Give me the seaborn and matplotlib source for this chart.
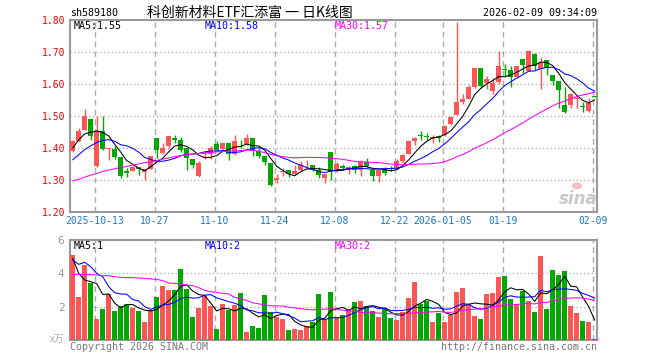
import numpy as np
import pandas as pd
import matplotlib
matplotlib.use("Agg")
import matplotlib.pyplot as plt
from matplotlib.patches import Ellipse
import seaborn as sns

# ---------------- data ----------------
opens = [1.392, 1.421, 1.457, 1.491, 1.345, 1.454, 1.397, 1.397, 1.371, 1.329,
         1.329, 1.340, 1.324, 1.333, 1.431, 1.384, 1.406, 1.431, 1.426, 1.400,
         1.366, 1.313, 1.380, 1.380, 1.413, 1.397, 1.416, 1.380, 1.413, 1.413,
         1.431, 1.391, 1.374, 1.353, 1.300, 1.325, 1.332, 1.319, 1.331, 1.349,
         1.348, 1.332, 1.305, 1.389, 1.329, 1.345, 1.330, 1.343, 1.330, 1.357,
         1.332, 1.311, 1.332, 1.337, 1.336, 1.359, 1.382, 1.422, 1.442, 1.438,
         1.427, 1.436, 1.441, 1.474, 1.503, 1.545, 1.552, 1.591, 1.649, 1.604,
         1.577, 1.605, 1.647, 1.644, 1.621, 1.679, 1.642, 1.695, 1.647, 1.674,
         1.627, 1.608, 1.535, 1.535, 1.552, 1.531, 1.516, 1.562]
highs = [1.426, 1.461, 1.523, 1.491, 1.500, 1.499, 1.400, 1.405, 1.372, 1.337,
         1.345, 1.340, 1.335, 1.376, 1.432, 1.416, 1.436, 1.441, 1.433, 1.400,
         1.366, 1.360, 1.390, 1.407, 1.421, 1.416, 1.416, 1.442, 1.426, 1.443,
         1.431, 1.399, 1.374, 1.353, 1.318, 1.337, 1.332, 1.346, 1.358, 1.361,
         1.348, 1.341, 1.320, 1.389, 1.357, 1.351, 1.345, 1.347, 1.362, 1.370,
         1.332, 1.332, 1.340, 1.345, 1.365, 1.382, 1.424, 1.434, 1.453, 1.448,
         1.441, 1.441, 1.472, 1.500, 1.795, 1.570, 1.596, 1.650, 1.649, 1.625,
         1.620, 1.703, 1.664, 1.655, 1.656, 1.679, 1.706, 1.697, 1.685, 1.674,
         1.627, 1.608, 1.590, 1.572, 1.561, 1.543, 1.556, 1.563]
lows = [1.389, 1.418, 1.455, 1.426, 1.342, 1.393, 1.363, 1.366, 1.307, 1.310,
        1.327, 1.315, 1.299, 1.333, 1.369, 1.381, 1.400, 1.416, 1.387, 1.332,
        1.337, 1.309, 1.365, 1.365, 1.390, 1.392, 1.362, 1.377, 1.400, 1.410,
        1.376, 1.368, 1.347, 1.282, 1.292, 1.312, 1.309, 1.316, 1.328, 1.334,
        1.327, 1.306, 1.290, 1.300, 1.326, 1.332, 1.320, 1.323, 1.314, 1.341,
        1.298, 1.295, 1.316, 1.327, 1.333, 1.354, 1.380, 1.409, 1.424, 1.424,
        1.417, 1.420, 1.439, 1.472, 1.503, 1.536, 1.552, 1.587, 1.589, 1.583,
        1.570, 1.600, 1.625, 1.592, 1.620, 1.634, 1.640, 1.643, 1.583, 1.627,
        1.598, 1.525, 1.509, 1.526, 1.525, 1.514, 1.514, 1.558]
closes = [1.421, 1.454, 1.501, 1.436, 1.454, 1.397, 1.400, 1.371, 1.314, 1.322,
          1.340, 1.335, 1.335, 1.374, 1.395, 1.400, 1.436, 1.426, 1.393, 1.369,
          1.348, 1.353, 1.385, 1.400, 1.395, 1.416, 1.380, 1.423, 1.411, 1.431,
          1.391, 1.376, 1.355, 1.285, 1.307, 1.328, 1.318, 1.328, 1.348, 1.351,
          1.332, 1.316, 1.318, 1.329, 1.350, 1.339, 1.340, 1.330, 1.356, 1.343,
          1.313, 1.332, 1.321, 1.335, 1.359, 1.377, 1.422, 1.430, 1.439, 1.435,
          1.434, 1.432, 1.469, 1.497, 1.545, 1.552, 1.591, 1.649, 1.594, 1.615,
          1.604, 1.655, 1.645, 1.622, 1.655, 1.658, 1.704, 1.655, 1.670, 1.651,
          1.608, 1.582, 1.511, 1.569, 1.555, 1.529, 1.540, 1.560]
volumes = [5.10, 2.60, 4.50, 3.44, 1.26, 1.86, 2.76, 1.74, 2.04, 2.16,
           1.94, 1.74, 1.08, 1.80, 2.58, 3.24, 3.00, 3.00, 4.26, 3.06,
           1.38, 1.94, 2.70, 2.04, 0.66, 2.16, 1.80, 2.08, 2.82, 0.48,
           0.84, 0.72, 2.70, 1.68, 1.40, 1.26, 0.60, 0.66, 0.60, 0.84,
           1.08, 2.76, 1.26, 2.90, 1.36, 1.50, 1.86, 2.30, 2.36, 2.04,
           1.74, 1.38, 1.88, 1.32, 1.20, 1.68, 2.52, 3.48, 2.16, 2.34,
           1.08, 1.62, 1.08, 1.50, 2.88, 3.12, 2.16, 1.44, 1.26, 2.76,
           2.82, 3.78, 3.84, 2.46, 2.16, 2.94, 2.34, 1.68, 5.04, 1.86,
           4.20, 3.92, 4.14, 2.04, 1.62, 1.14, 1.08, 0.06]

# moving-average values at the left edge (need history before the window)
ma5_lead = [1.400, 1.426, 1.444, 1.449]
ma10_lead = [1.363, 1.379, 1.395, 1.407, 1.417, 1.424, 1.426, 1.421, 1.410]
ma30_lead = [1.297, 1.302, 1.309, 1.315, 1.320, 1.327, 1.331, 1.335, 1.339, 1.342,
             1.347, 1.350, 1.354, 1.357, 1.361, 1.365, 1.369, 1.373, 1.376, 1.379,
             1.381, 1.383, 1.385, 1.386, 1.388, 1.389, 1.390, 1.391, 1.392]
vma5_lead = [4.90, 4.00, 3.60, 3.50]
vma10_lead = [4.80, 4.54, 4.66, 4.40, 4.00, 3.80, 3.20, 2.84, 2.76]
vma30_lead = [3.94, 3.94, 3.94, 3.92, 3.90, 3.86, 3.86, 3.80, 3.76, 3.74,
              3.74, 3.72, 3.70, 3.66, 3.64, 3.56, 3.42, 3.40, 3.36, 3.30,
              3.26, 3.14, 2.98, 2.90, 2.86, 2.80, 2.76, 2.56, 2.46]

tick_labels = ["2025-10-13", "10-27", "11-10", "11-24", "12-08", "12-22",
               "2026-01-05", "01-19", "02-09"]
tick_index = [4, 14, 24, 34, 44, 54, 62, 72, 87]
price_ticks = [1.20, 1.30, 1.40, 1.50, 1.60, 1.70, 1.80]
vol_ticks = [2, 4, 6]

title_code = "sh589180"
title_name = "科创新材料ETF汇添富 一 日K线图"
timestamp = "2026-02-09 09:34:09"
ma_labels = ["MA5:1.55", "MA10:1.58", "MA30:1.57"]
vma_labels = ["MA5:1", "MA10:2", "MA30:2"]

# ---------------- derived ----------------
n = len(closes)
idx = np.arange(n)
df = pd.DataFrame({"i": idx, "open": opens, "high": highs, "low": lows,
                   "close": closes, "vol": volumes})
df["dir"] = np.where(df["close"] >= df["open"], "up", "down")


def moving(values, win, lead):
    r = pd.Series(values).rolling(win).mean().to_numpy()
    r[:len(lead)] = lead
    return r


df["ma5"] = moving(closes, 5, ma5_lead)
df["ma10"] = moving(closes, 10, ma10_lead)
df["ma30"] = moving(closes, 30, ma30_lead)
df["vma5"] = moving(volumes, 5, vma5_lead)
df["vma10"] = moving(volumes, 10, vma10_lead)
df["vma30"] = moving(volumes, 30, vma30_lead)

RED = "#ff5555"
GREEN = "#00a800"
pal = {"up": RED, "down": GREEN}
cols = df["dir"].map(pal).to_list()

sns.set_style("white")
plt.rcParams["font.family"] = ["DejaVu Sans Mono", "Noto Sans CJK SC"]

W, H = 660, 360
fig = plt.figure(figsize=(W / 100, H / 100), dpi=100)
fig.patch.set_facecolor("white")

L, R = 70, 597
ax = fig.add_axes([L / W, 1 - 212 / H, (R - L) / W, (212 - 20) / H])
axv = fig.add_axes([L / W, 1 - 340 / H, (R - L) / W, (340 - 240) / H])

x0 = -0.45
x1 = x0 + (R - L) / 6.0
grid_shift = -0.35
LW = 0.75

for a in (ax, axv):
    for s in a.spines.values():
        s.set_color("#9a9a9a")
        s.set_linewidth(1.5)
    a.set_facecolor("white")

# ---- candles ----
ax.vlines(df["i"], df["low"], df["high"], colors=cols, lw=1.0, zorder=3)
body_lo = np.minimum(df["open"], df["close"])
body_h = np.maximum(np.abs(df["close"] - df["open"]), 0.0025)
ax.bar(df["i"], body_h, bottom=body_lo, width=0.78, color=cols, lw=0, zorder=4)

sns.lineplot(data=df, x="i", y="ma5", ax=ax, color="black", lw=LW, zorder=5)
sns.lineplot(data=df, x="i", y="ma10", ax=ax, color="#0000ff", lw=LW, zorder=5)
sns.lineplot(data=df, x="i", y="ma30", ax=ax, color="#ff00ff", lw=LW, zorder=5)

ax.set_xlim(x0, x1)
ax.set_ylim(1.20, 1.80)
ax.set_yticks(price_ticks)
ax.set_yticklabels([f"{p:.2f}" for p in price_ticks], color="#ee0000", fontsize=7)
ax.set_xticks(np.array(tick_index) + grid_shift)
ax.set_xticklabels(tick_labels, color="#1a78c8", fontsize=7)
ax.tick_params(length=0, pad=3)
ax.set_xlabel("")
ax.set_ylabel("")
for p in price_ticks[1:-1]:
    ax.axhline(p, color="#aaaaaa", lw=0.9, ls=(0, (1, 2)), zorder=1)
for t in tick_index:
    ax.axvline(t + grid_shift, color="#aaaaaa", lw=1.0, ls=(0, (4, 3)), zorder=1)

# ---- volume ----
sns.barplot(data=df, x="i", y="vol", hue="dir", palette=pal, native_scale=True,
            dodge=False, legend=False, width=0.82, saturation=1, errorbar=None,
            ax=axv, zorder=3, linewidth=0)
sns.lineplot(data=df, x="i", y="vma5", ax=axv, color="black", lw=LW, zorder=5)
sns.lineplot(data=df, x="i", y="vma10", ax=axv, color="#0000ff", lw=LW, zorder=5)
sns.lineplot(data=df, x="i", y="vma30", ax=axv, color="#ff00ff", lw=LW, zorder=5)
axv.set_xlim(x0, x1)
axv.set_ylim(0, 6)
axv.set_yticks(vol_ticks)
axv.set_yticklabels([str(v) for v in vol_ticks], color="#999999", fontsize=8)
axv.set_xticks([])
axv.tick_params(length=0, pad=4)
axv.set_xlabel("")
axv.set_ylabel("")
for v in vol_ticks[:-1]:
    axv.axhline(v, color="#aaaaaa", lw=0.9, ls=(0, (1, 2)), zorder=1)
for t in tick_index:
    axv.axvline(t + grid_shift, color="#aaaaaa", lw=1.0, ls=(0, (4, 3)), zorder=1)


def ftext(x, y, s, **kw):
    fig.text(x / W, 1 - y / H, s, **kw)


# titles
ftext(70, 13, title_code, fontsize=7.2, color="black", va="center", ha="left")
ftext(250, 13, title_name, fontsize=10, color="black", va="center", ha="center",
      family=["Noto Sans CJK SC", "DejaVu Sans"])
ftext(597, 13, timestamp, fontsize=7.2, color="black", va="center", ha="right")

# MA legends
ma_cols = ["black", "#0000ff", "#ff00ff"]
ma_x = [74, 205, 335]
for s, c, x in zip(ma_labels, ma_cols, ma_x):
    ftext(x, 26, s, fontsize=7.2, color=c, va="center", ha="left")
for s, c, x in zip(vma_labels, ma_cols, ma_x):
    ftext(x, 246, s, fontsize=7.2, color=c, va="center", ha="left")

# unit label
ftext(64, 339, "x万", fontsize=7, color="#aaaaaa", va="center", ha="right",
      family=["Noto Sans CJK SC", "DejaVu Sans"])

# footer
ftext(70, 347, "Copyright 2026 SINA.COM", fontsize=7.2, color="#777777",
      va="center", ha="left")
ftext(597, 347, "http://finance.sina.com.cn", fontsize=7.2, color="#777777",
      va="center", ha="right")

# watermark (logo eye drawn as a shape, word as text)
ftext(578, 199, "sina", fontsize=12, color="#c8c8c8", va="center", ha="center",
      family=["DejaVu Sans"], style="italic", weight="bold")
fig.add_artist(Ellipse((577 / W, 1 - 186 / H), 10 / W, 7 / H,
                       transform=fig.transFigure, facecolor="#f3c0c0",
                       edgecolor="none", zorder=6))

fig.savefig("out.png", dpi=100, facecolor="white")
